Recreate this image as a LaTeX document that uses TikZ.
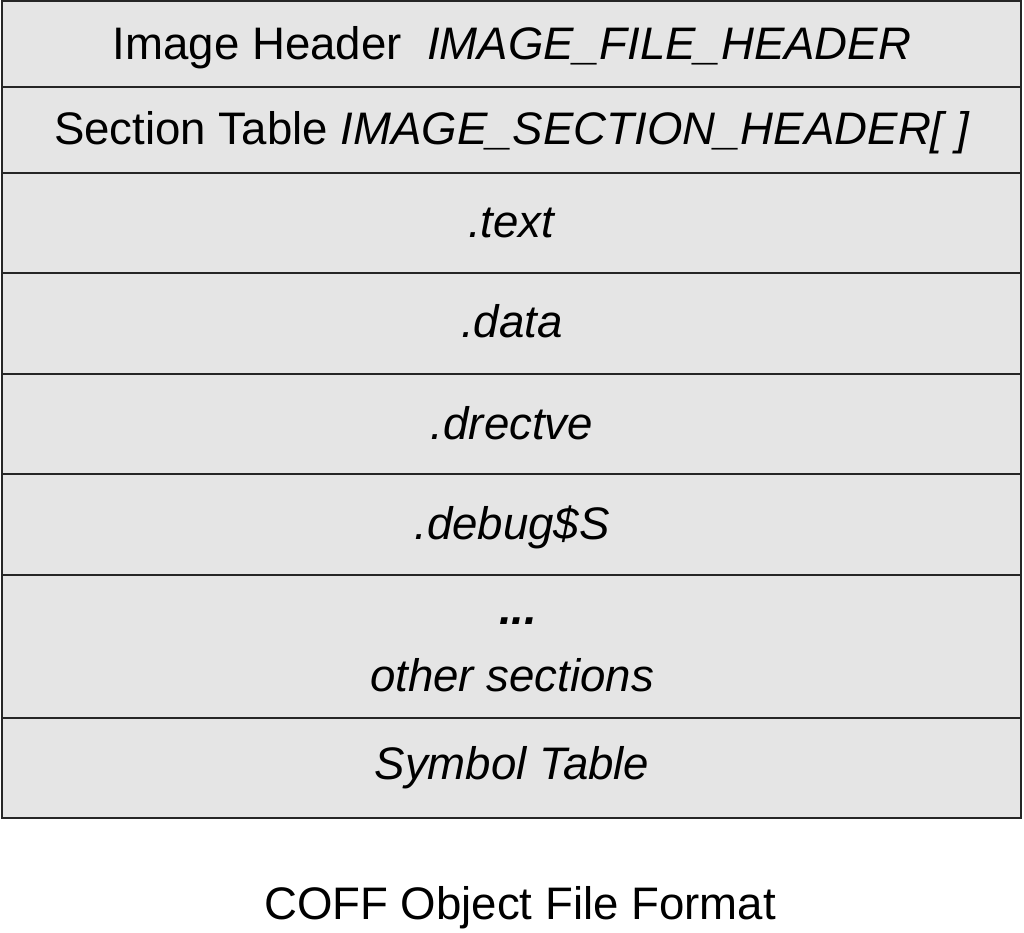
\documentclass[tikz,border=0pt]{standalone}
\usepackage{fontspec}
\setmainfont{Liberation Sans}
\begin{document}
\begin{tikzpicture}[x=1pt,y=-1pt,
  row/.style={draw=black!85, line width=1.5pt, fill=black!10},
  lbl/.style={font=\fontsize{45.6}{52}\selectfont, inner sep=0pt, anchor=base}]
\useasboundingbox (0,0) rectangle (1024,932);
\path[row] (2,1) rectangle (1021,87);
\path[row] (2,87) rectangle (1021,173);
\path[row] (2,173) rectangle (1021,273);
\path[row] (2,273) rectangle (1021,374);
\path[row] (2,374) rectangle (1021,474);
\path[row] (2,474) rectangle (1021,575);
\path[row] (2,575) rectangle (1021,718);
\path[row] (2,718) rectangle (1021,818);
\node[lbl] (h) at (512,59) {Image Header\ \ \textit{IMAGE\_FILE\_HEADER}};
\node[lbl] (s) at (512,144) {Section Table \textit{IMAGE\_SECTION\_HEADER[ ]}};
\node[lbl] (t) at (512,237) {\textit{.text}};
\node[lbl] (d) at (512,337) {\textit{.data}};
\node[lbl] (dr) at (512,439) {\textit{.drectve}};
\node[lbl] (db) at (512,539) {\textit{.debug\$S}};
\node[lbl] (dots) at (518,624) {\textbf{\textit{...}}};
\node[lbl] (o) at (512,691) {\textit{other sections}};
\node[lbl] (sym) at (512,779) {\textit{Symbol Table}};
\node[lbl] (cap) at (520,919) {COFF Object File Format};
\end{tikzpicture}
\end{document}
